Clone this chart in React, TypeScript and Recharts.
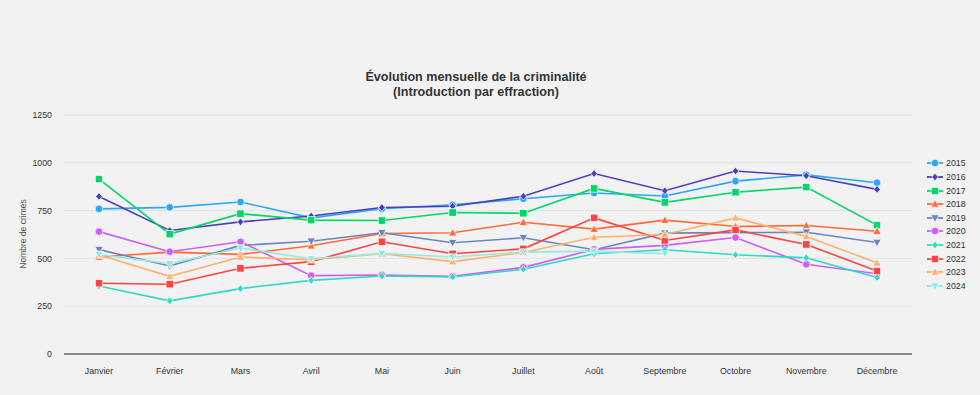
import React from 'react';
import { LineChart, Line, XAxis, YAxis, CartesianGrid, Legend } from 'recharts';

const months = ['Janvier', 'Février', 'Mars', 'Avril', 'Mai', 'Juin', 'Juillet', 'Août', 'Septembre', 'Octobre', 'Novembre', 'Décembre'];

const y2015 = [759, 767, 795, 712, 760, 780, 812, 842, 826, 904, 937, 896];
const y2016 = [824, 646, 691, 722, 766, 773, 825, 944, 854, 957, 932, 861];
const y2017 = [915, 627, 734, 700, 698, 740, 736, 866, 793, 846, 873, 674];
const y2018 = [507, 533, 521, 566, 630, 634, 689, 653, 700, 667, 672, 642];
const y2019 = [546, 460, 568, 590, 634, 582, 608, 545, 632, 635, 637, 583];
const y2020 = [640, 535, 587, 410, 413, 406, 453, 547, 568, 609, 469, 420];
const y2021 = [356, 278, 342, 385, 408, 403, 443, 524, 545, 519, 503, 400];
const y2022 = [370, 365, 448, 483, 587, 524, 550, 712, 594, 649, 573, 434];
const y2023 = [518, 406, 507, 493, 524, 483, 531, 611, 625, 712, 615, 477];
const y2024 = [520, 472, 554, 498, 526, 507, 533, 538, 524, null, null, null];

const yTicks = [0, 250, 500, 750, 1000, 1250];

const series = [
  { key: '2015', values: y2015, color: '#2ea6f6', shape: 'circle' },
  { key: '2016', values: y2016, color: '#4a40bf', shape: 'diamond' },
  { key: '2017', values: y2017, color: '#00d769', shape: 'square' },
  { key: '2018', values: y2018, color: '#ff6b35', shape: 'triangle' },
  { key: '2019', values: y2019, color: '#6a86bd', shape: 'triangleDown' },
  { key: '2020', values: y2020, color: '#cc5ff4', shape: 'circle' },
  { key: '2021', values: y2021, color: '#2ddac4', shape: 'diamond' },
  { key: '2022', values: y2022, color: '#ff4242', shape: 'square' },
  { key: '2023', values: y2023, color: '#ffb06c', shape: 'triangle' },
  { key: '2024', values: y2024, color: '#94e9e1', shape: 'triangleDown' },
];

const data = months.map((m, i) => {
  const row: any = { month: m };
  series.forEach((s) => {
    row[s.key] = s.values[i];
  });
  return row;
});

const FONT = '"Liberation Sans", Arial, sans-serif';

function Marker({ shape, cx, cy, color }: { shape: string; cx: number; cy: number; color: string }) {
  const common = { fill: color, stroke: '#ffffff', strokeWidth: 0.7 };
  if (shape === 'circle') return <circle cx={cx} cy={cy} r={3.8} {...common} />;
  if (shape === 'square') return <rect x={cx - 3.7} y={cy - 3.7} width={7.4} height={7.4} {...common} />;
  if (shape === 'diamond')
    return <path d={`M${cx},${cy - 3.8}L${cx + 3.3},${cy}L${cx},${cy + 3.8}L${cx - 3.3},${cy}Z`} {...common} />;
  if (shape === 'triangle')
    return <path d={`M${cx},${cy - 4.2}L${cx + 4.2},${cy + 3.2}L${cx - 4.2},${cy + 3.2}Z`} {...common} />;
  return <path d={`M${cx},${cy + 4.2}L${cx + 4.2},${cy - 3.2}L${cx - 4.2},${cy - 3.2}Z`} {...common} />;
}

const makeDot = (shape: string, color: string) => (props: any) => {
  const { cx, cy, index, value } = props;
  if (cx == null || cy == null || value == null) return <g key={`d-${index}`} />;
  return (
    <g key={`d-${index}`}>
      <Marker shape={shape} cx={cx} cy={cy} color={color} />
    </g>
  );
};

const renderLegend = () => (
  <div style={{ fontFamily: FONT, fontSize: 8.8, color: '#333' }}>
    {series.map((s) => (
      <div key={s.key} style={{ height: 13.63, display: 'flex', alignItems: 'center' }}>
        <svg width={16} height={10} style={{ marginRight: 3 }}>
          <line x1={0} y1={5} x2={16} y2={5} stroke={s.color} strokeWidth={1.8} />
          <Marker shape={s.shape} cx={8} cy={5} color={s.color} />
        </svg>
        <span>{s.key}</span>
      </div>
    ))}
  </div>
);

export default function App() {
  return (
    <div style={{ position: 'absolute', left: 0, top: 0, width: 980, height: 395, background: '#f2f2f2', overflow: 'hidden' }}>
      <div
        style={{
          position: 'absolute',
          left: 0,
          top: 69.5,
          width: 952,
          textAlign: 'center',
          fontFamily: FONT,
          fontWeight: 'bold',
          fontSize: 12.6,
          lineHeight: '15px',
          color: '#333',
        }}
      >
        <div>Évolution mensuelle de la criminalité</div>
        <div>(Introduction par effraction)</div>
      </div>
      <div
        style={{
          position: 'absolute',
          left: 22.5,
          top: 234,
          transform: 'translate(-50%, -50%) rotate(-90deg)',
          whiteSpace: 'nowrap',
          fontFamily: FONT,
          fontSize: 8.5,
          color: '#555',
        }}
      >
        Nombre de crimes
      </div>
      <LineChart width={980} height={395} data={data} margin={{ top: 115, right: 68, left: 14, bottom: 11 }}>
        <CartesianGrid vertical={false} stroke="#e3e3e3" />
        <XAxis
          dataKey="month"
          padding={{ left: 35, right: 35 }}
          height={30}
          tickLine={false}
          tickSize={6}
          tickMargin={8}
          axisLine={{ stroke: '#666', strokeWidth: 1.3 }}
          tick={{ fill: '#333', fontSize: 8.8, fontFamily: FONT }}
        />
        <YAxis
          width={50}
          domain={[0, 1250]}
          ticks={yTicks}
          axisLine={false}
          tickLine={false}
          tickSize={6}
          tickMargin={6}
          tick={{ fill: '#333', fontSize: 8.8, fontFamily: FONT }}
        />
        <Legend
          layout="vertical"
          align="center"
          verticalAlign="middle"
          content={renderLegend}
          wrapperStyle={{ left: 927, top: 156.5, width: 53 }}
        />
        {series.map((s) => (
          <Line
            key={s.key}
            dataKey={s.key}
            stroke={s.color}
            strokeWidth={1.6}
            type="linear"
            dot={makeDot(s.shape, s.color)}
            activeDot={false}
            isAnimationActive={false}
          />
        ))}
      </LineChart>
    </div>
  );
}
